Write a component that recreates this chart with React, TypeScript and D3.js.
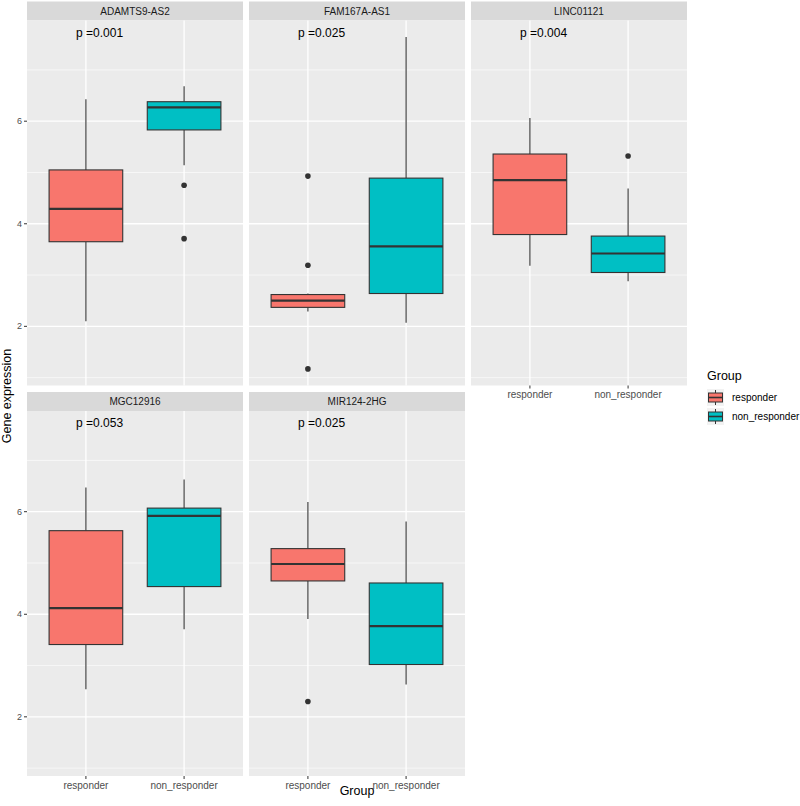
import * as d3 from 'd3';

// facet names, in drawing order (3 columns, 2 rows)
const genes = ['ADAMTS9-AS2', 'FAM167A-AS1', 'LINC01121', 'MGC12916', 'MIR124-2HG'];
const groups = ['responder', 'non_responder'];
const pValues = ['p =0.001', 'p =0.025', 'p =0.004', 'p =0.053', 'p =0.025'];
const yTicks = [2, 4, 6];
const yMinor = [1, 3, 5, 7];

// box stats per gene: [whiskerLow, q1, median, q3, whiskerHigh]
const responderStats = [
  [2.10, 3.65, 4.29, 5.05, 6.43],
  [2.29, 2.37, 2.50, 2.62, 2.64],
  [3.18, 3.79, 4.85, 5.36, 6.06],
  [2.54, 3.41, 4.12, 5.63, 6.47],
  [3.91, 4.65, 4.98, 5.28, 6.19],
];
const nonResponderStats = [
  [5.14, 5.83, 6.27, 6.38, 6.68],
  [2.07, 2.64, 3.56, 4.89, 7.64],
  [2.88, 3.05, 3.42, 3.76, 4.69],
  [3.71, 4.54, 5.92, 6.07, 6.63],
  [2.63, 3.02, 3.77, 4.61, 5.81],
];
const responderOutliers = [[], [4.93, 3.19, 1.17], [], [], [2.30]];
const nonResponderOutliers = [[4.75, 3.71], [], [5.32], [], []];

const colors = ['#F8766D', '#00BFC4'];
const font = 'Liberation Sans, Arial, Helvetica, sans-serif';

export default function App() {
  const width = 800;
  const height = 806;
  const panelW = 216;
  const panelH = 365;
  const stripH = 19;
  const gapX = 6;
  const colLeft = (c: number) => 27 + c * (panelW + gapX);
  const rowStripTop = [1.5, 392];

  const allVals = [
    ...responderStats.flat(), ...nonResponderStats.flat(),
    ...responderOutliers.flat(), ...nonResponderOutliers.flat(),
  ];
  const [lo, hi] = d3.extent(allVals) as [number, number];
  const pad = (hi - lo) * 0.05;

  const x = d3.scalePoint<string>().domain(groups).range([0.6, 1.6]);
  const xPx = d3.scaleLinear().domain([0, 2.2]).range([0, panelW]);
  const boxW = xPx(0.75) - xPx(0);
  const pStats = [responderStats, nonResponderStats];
  const pOut = [responderOutliers, nonResponderOutliers];

  return (
    <svg width={width} height={height} style={{ position: 'absolute', left: 0, top: 0 }} fontFamily={font}>
      <rect width={width} height={height} fill="#fff" />
      {genes.map((gene, i) => {
        const col = i % 3;
        const row = Math.floor(i / 3);
        const left = colLeft(col);
        const sTop = rowStripTop[row];
        const pTop = sTop + stripH;
        const y = d3.scaleLinear().domain([lo - pad, hi + pad]).range([pTop + panelH, pTop]);
        const cx = (g: string) => left + xPx(x(g) as number);
        const showX = row === 1 || col === 2;
        return (
          <g key={gene}>
            <rect x={left} y={sTop} width={panelW} height={stripH} fill="#D9D9D9" />
            <text x={left + panelW / 2} y={sTop + stripH / 2} dy="0.35em" textAnchor="middle" fontSize={10} fill="#1A1A1A">{gene}</text>
            <rect x={left} y={pTop} width={panelW} height={panelH} fill="#EBEBEB" />
            {yMinor.map((v) => (
              <line key={'m' + v} x1={left} x2={left + panelW} y1={y(v)} y2={y(v)} stroke="#fff" strokeWidth={0.6} />
            ))}
            {yTicks.map((v) => (
              <line key={'M' + v} x1={left} x2={left + panelW} y1={y(v)} y2={y(v)} stroke="#fff" strokeWidth={1.3} />
            ))}
            {groups.map((g) => (
              <line key={'v' + g} x1={cx(g)} x2={cx(g)} y1={pTop} y2={pTop + panelH} stroke="#fff" strokeWidth={1.3} />
            ))}
            {groups.map((g, gi) => {
              const [wl, q1, med, q3, wh] = pStats[gi][i];
              const c = cx(g);
              return (
                <g key={'b' + g}>
                  <line x1={c} x2={c} y1={y(wh)} y2={y(q3)} stroke="#333" strokeWidth={1.1} />
                  <line x1={c} x2={c} y1={y(q1)} y2={y(wl)} stroke="#333" strokeWidth={1.1} />
                  <rect x={c - boxW / 2} y={y(q3)} width={boxW} height={y(q1) - y(q3)} fill={colors[gi]} stroke="#333" strokeWidth={1.1} />
                  <line x1={c - boxW / 2} x2={c + boxW / 2} y1={y(med)} y2={y(med)} stroke="#333" strokeWidth={2.2} />
                  {pOut[gi][i].map((o, k) => (
                    <circle key={k} cx={c} cy={y(o)} r={2.8} fill="#333" />
                  ))}
                </g>
              );
            })}
            <text x={left + xPx(0.5)} y={y(7.73)} dy="0.35em" fontSize={12} fill="#000">{pValues[i]}</text>
            {col === 0 && yTicks.map((v) => (
              <g key={'yt' + v}>
                <line x1={left - 3} x2={left} y1={y(v)} y2={y(v)} stroke="#333" strokeWidth={1} />
                <text x={left - 5} y={y(v)} dy="0.35em" textAnchor="end" fontSize={9} fill="#4D4D4D">{v}</text>
              </g>
            ))}
            {showX && groups.map((g) => (
              <g key={'xt' + g}>
                <line x1={cx(g)} x2={cx(g)} y1={pTop + panelH} y2={pTop + panelH + 3} stroke="#333" strokeWidth={1} />
                <text x={cx(g)} y={pTop + panelH + 9} dy="0.35em" textAnchor="middle" fontSize={10} fill="#4D4D4D">{g}</text>
              </g>
            ))}
          </g>
        );
      })}
      <text transform="translate(7,396) rotate(-90)" dy="0.35em" textAnchor="middle" fontSize={12.5} fill="#000">Gene expression</text>
      <text x={357} y={795} textAnchor="middle" fontSize={12.5} fill="#000">Group</text>
      <text x={707} y={376} dy="0.35em" fontSize={12.5} fill="#000">Group</text>
      {groups.map((g, gi) => {
        const ky = 389 + gi * 19;
        return (
          <g key={'lg' + g}>
            <rect x={707} y={ky} width={17} height={17} fill="#F2F2F2" />
            <line x1={715.5} x2={715.5} y1={ky + 1} y2={ky + 16} stroke="#333" strokeWidth={1} />
            <rect x={708.5} y={ky + 4} width={14} height={9} fill={colors[gi]} stroke="#333" strokeWidth={1} />
            <line x1={708.5} x2={722.5} y1={ky + 8.5} y2={ky + 8.5} stroke="#333" strokeWidth={1.6} />
            <text x={732} y={ky + 8.5} dy="0.35em" fontSize={10} fill="#000">{g}</text>
          </g>
        );
      })}
    </svg>
  );
}
